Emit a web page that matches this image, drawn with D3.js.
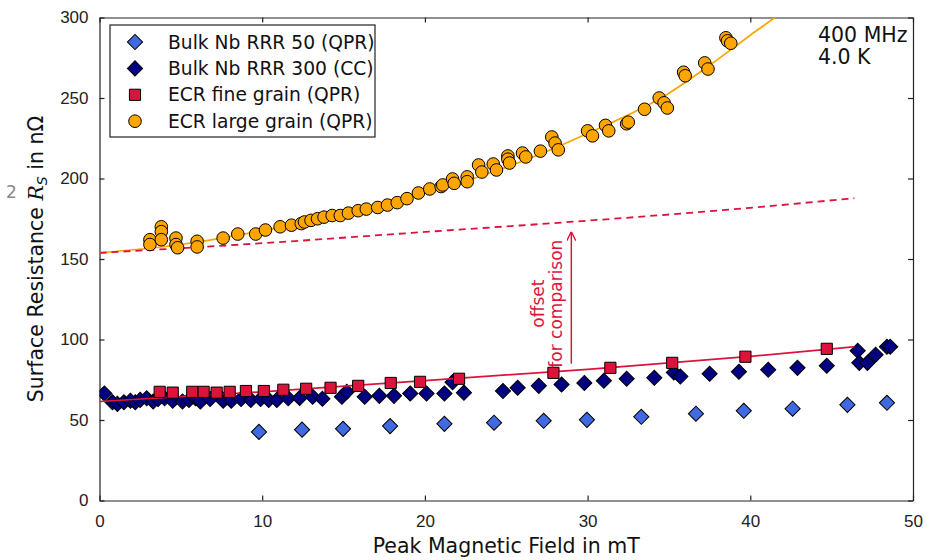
<!DOCTYPE html>
<html>
<head>
<meta charset="utf-8">
<script src="https://cdn.jsdelivr.net/npm/d3@7"></script>
<style>
  body { margin: 0; background: #fff; }
  svg { display: block; font-family: "DejaVu Sans", sans-serif; }
  .axis text { font-size: 17px; fill: #222; }
  .axis path, .axis line { stroke: #222; stroke-width: 1.2; }
</style>
</head>
<body>
<div id="chart"></div>
<script>
const margin = {top: 17.5, right: 14, bottom: 59.5, left: 99.5};
const width = 927;
const height = 560;
const innerWidth = width - margin.left - margin.right;
const innerHeight = height - margin.top - margin.bottom;

// Data: [peak field in mT, Rs in nOhm]
const xTicks = [0, 10, 20, 30, 40, 50];
const yTicks = [0, 50, 100, 150, 200, 250, 300];

const bulkRRR50 = [
  [9.8, 42.6], [12.45, 44], [14.97, 44.5], [17.86, 46.2], [21.2, 47.6], [24.25, 48.3],
  [27.3, 49.5], [29.96, 50.1], [33.3, 52], [36.66, 53.9], [39.6, 55.7], [42.6, 57],
  [45.97, 59.4], [48.4, 60.7]
];

const bulkRRR300 = [
  [0.3, 66.5], [0.8, 61], [1.1, 60], [1.5, 61], [1.9, 62], [2.2, 61], [2.5, 62.5],
  [2.9, 63.5], [3.3, 61.5], [3.6, 63], [4.0, 63.5], [4.5, 62], [5.1, 61.5], [5.5, 62.5],
  [5.9, 63.5], [6.2, 61.5], [6.8, 63], [7.3, 65.5], [7.6, 62], [8.1, 62], [8.7, 63],
  [9.3, 62.5], [9.9, 63], [10.4, 62.5], [10.9, 62.5], [11.6, 63.5], [12.3, 63.7],
  [13.1, 64.4], [13.7, 63.2], [14.9, 64.4], [15.2, 67.5], [16.3, 64.4], [17.2, 65],
  [18.1, 65], [19.1, 66.5], [20.1, 66.5], [21.2, 66.5], [21.7, 73.5], [22.4, 67],
  [24.8, 68], [25.7, 70], [27.0, 71.2], [28.4, 72], [29.8, 73], [31.0, 74.4],
  [32.4, 75.6], [34.1, 76.2], [35.3, 79.5], [35.7, 77], [37.5, 78.7], [39.3, 80],
  [41.1, 81.2], [42.9, 82.4], [44.7, 83.7], [46.6, 93], [46.7, 85.5], [47.2, 85.5],
  [47.7, 90.5], [48.4, 95.5], [48.6, 95.5]
];

const ecrFine = [
  [3.7, 67.5], [4.5, 67], [5.7, 67.5], [6.4, 67.5], [7.2, 67], [8.0, 67.5], [9.0, 68],
  [10.1, 68], [11.3, 68.8], [12.7, 69.4], [14.2, 70], [15.9, 71.2], [17.9, 73],
  [19.7, 73.7], [22.1, 75.6], [27.9, 79.3], [31.4, 82.4], [35.2, 85.5], [39.7, 89.3],
  [44.7, 94.2]
];

const ecrLarge = [
  [3.1, 162], [3.1, 159], [3.8, 170], [3.8, 167], [3.8, 162], [4.7, 163], [4.7, 159],
  [4.8, 157], [6.0, 161], [6.0, 157.5], [7.6, 163], [8.5, 165.5], [9.6, 165.5],
  [10.2, 168], [11.1, 170], [11.8, 171], [12.4, 172], [12.6, 173], [13.0, 174],
  [13.4, 175], [13.8, 176], [14.3, 177], [14.8, 177], [15.3, 178.5], [15.9, 180],
  [16.4, 181], [17.1, 182], [17.7, 183.5], [18.3, 185], [18.9, 187.5], [19.6, 191],
  [20.3, 193.5], [21.0, 195], [21.1, 196], [21.7, 199.7], [21.8, 197], [22.6, 201],
  [22.6, 198], [23.3, 208.4], [23.5, 204], [24.2, 209], [24.4, 205.3], [25.1, 214],
  [25.1, 212], [25.2, 209.6], [26.0, 215.8], [26.2, 213.4], [27.1, 217], [27.8, 225.8],
  [28.0, 222], [28.2, 217.8], [30.0, 229.6], [30.3, 226.5], [31.1, 233], [31.3, 229.6],
  [32.4, 234], [32.5, 235], [33.5, 243], [34.4, 250], [34.7, 247], [34.9, 243.8],
  [35.9, 266], [36.0, 263.8], [37.2, 271.8], [37.4, 268], [38.5, 287.4], [38.6, 285.5],
  [38.8, 284]
];

// Fit curves
const fineFit = [[0, 61.5], [10, 67.5], [20, 74.5], [30, 81.5], [40, 89.5], [46.4, 95.5]];
const fineOffset = 92.3;
const largeFit = [
  [0, 153.8], [5, 159], [10, 167.5], [15, 178], [20, 191], [25, 207], [30, 228],
  [35, 253], [38, 274], [40, 289], [41.5, 300], [43, 312]
];
const arrowX = 29;
const arrowFrom = 85;
const arrowTo = 167;

const legendItems = [
  {label: "Bulk Nb RRR 50 (QPR)", shape: "diamond", color: "#4169e1"},
  {label: "Bulk Nb RRR 300 (CC)", shape: "diamond", color: "#000080"},
  {label: "ECR fine grain (QPR)", shape: "square", color: "#dc143c"},
  {label: "ECR large grain (QPR)", shape: "circle", color: "#ffa500"}
];

// Append containers
const svg = d3.select("#chart")
  .append("svg")
    .attr("width", width)
    .attr("height", height);

svg.append("defs")
  .append("clipPath")
    .attr("id", "plot-clip")
  .append("rect")
    .attr("width", innerWidth)
    .attr("height", innerHeight);

svg.select("defs")
  .append("marker")
    .attr("id", "arrow-head")
    .attr("viewBox", "0 0 10 10")
    .attr("refX", 10)
    .attr("refY", 5)
    .attr("markerWidth", 9)
    .attr("markerHeight", 9)
    .attr("markerUnits", "userSpaceOnUse")
    .attr("orient", "auto")
  .append("path")
    .attr("d", "M0,0 L10,5 L0,10")
    .attr("fill", "none")
    .attr("stroke", "#dc143c")
    .attr("stroke-width", 1.5);

const innerChart = svg
  .append("g")
    .attr("transform", `translate(${margin.left}, ${margin.top})`);

// Declare scales
const xScale = d3.scaleLinear()
  .domain([0, 50])
  .range([0, innerWidth]);

const yScale = d3.scaleLinear()
  .domain([0, 300])
  .range([innerHeight, 0]);

// Axes, ticks pointing inward on all four sides
innerChart.append("g")
    .attr("class", "axis axis-x")
    .attr("transform", `translate(0, ${innerHeight})`)
    .call(d3.axisBottom(xScale).tickValues(xTicks).tickSize(-5).tickSizeOuter(0).tickPadding(14));

innerChart.append("g")
    .attr("class", "axis axis-y")
    .call(d3.axisLeft(yScale).tickValues(yTicks).tickSize(-5).tickSizeOuter(0).tickPadding(11));

innerChart.append("g")
    .attr("class", "axis")
    .call(d3.axisTop(xScale).tickValues(xTicks).tickSize(-5).tickSizeOuter(0).tickFormat(""));

innerChart.append("g")
    .attr("class", "axis")
    .attr("transform", `translate(${innerWidth}, 0)`)
    .call(d3.axisRight(yScale).tickValues(yTicks).tickSize(-5).tickSizeOuter(0).tickFormat(""));

// Marker generators
const diamond = d3.symbol(d3.symbolSquare, 115);
const square = d3.symbol(d3.symbolSquare, 125);

const plot = innerChart.append("g")
    .attr("clip-path", "url(#plot-clip)");

const drawDiamonds = (data, color) => {
  plot.append("g")
    .selectAll("path")
    .data(data)
    .join("path")
      .attr("d", diamond())
      .attr("transform", d => `translate(${xScale(d[0])}, ${yScale(d[1])}) rotate(45)`)
      .attr("fill", color)
      .attr("stroke", "#000")
      .attr("stroke-width", 1);
};

drawDiamonds(bulkRRR50, "#4169e1");
drawDiamonds(bulkRRR300, "#000080");

// Fit curves
const fitLine = d3.line()
  .x(d => xScale(d[0]))
  .y(d => yScale(d[1]))
  .curve(d3.curveMonotoneX);

plot.append("path")
    .attr("d", fitLine(largeFit))
    .attr("fill", "none")
    .attr("stroke", "#ffa500")
    .attr("stroke-width", 1.7);

plot.append("path")
    .attr("d", fitLine(fineFit))
    .attr("fill", "none")
    .attr("stroke", "#dc143c")
    .attr("stroke-width", 1.7);

plot.append("path")
    .attr("d", fitLine(fineFit.map(d => [d[0], d[1] + fineOffset])))
    .attr("fill", "none")
    .attr("stroke", "#dc143c")
    .attr("stroke-width", 1.8)
    .attr("stroke-dasharray", "7,5");

// Squares and circles
plot.append("g")
  .selectAll("path")
  .data(ecrFine)
  .join("path")
    .attr("d", square())
    .attr("transform", d => `translate(${xScale(d[0])}, ${yScale(d[1])})`)
    .attr("fill", "#dc143c")
    .attr("stroke", "#000")
    .attr("stroke-width", 1);

plot.append("g")
  .selectAll("circle")
  .data(ecrLarge)
  .join("circle")
    .attr("cx", d => xScale(d[0]))
    .attr("cy", d => yScale(d[1]))
    .attr("r", 6.3)
    .attr("fill", "#ffa500")
    .attr("stroke", "#000")
    .attr("stroke-width", 1);

// Offset arrow and note
innerChart.append("line")
    .attr("x1", xScale(arrowX))
    .attr("y1", yScale(arrowFrom))
    .attr("x2", xScale(arrowX))
    .attr("y2", yScale(arrowTo))
    .attr("stroke", "#dc143c")
    .attr("stroke-width", 1.5)
    .attr("marker-end", "url(#arrow-head)");

const noteY = yScale((arrowFrom + arrowTo) / 2) + 6;
const note = innerChart.append("text")
    .attr("transform", `translate(${xScale(arrowX) - 9}, ${noteY}) rotate(-90)`)
    .attr("text-anchor", "middle")
    .attr("fill", "#dc143c")
    .style("font-size", "17px");
note.append("tspan")
    .attr("x", 0)
    .attr("y", -18)
    .text("offset");
note.append("tspan")
    .attr("x", 0)
    .attr("y", 0)
    .text("for comparison");

// Conditions label
const cond = innerChart.append("text")
    .attr("x", 718.5)
    .attr("y", 24.5)
    .attr("fill", "#111")
    .style("font-size", "20.5px");
cond.append("tspan")
    .attr("x", 718.5)
    .text("400 MHz");
cond.append("tspan")
    .attr("x", 718.5)
    .attr("dy", 22)
    .text("4.0 K");

// Legend
const legend = svg.append("g")
    .attr("transform", "translate(110, 25)");
legend.append("rect")
    .attr("width", 265)
    .attr("height", 112)
    .attr("fill", "#fff")
    .attr("stroke", "#222")
    .attr("stroke-width", 1.2);

const legendRows = legend.selectAll(".legend-row")
  .data(legendItems)
  .join("g")
    .attr("class", "legend-row")
    .attr("transform", (d, i) => `translate(25, ${17 + i * 26.4})`);

legendRows.filter(d => d.shape === "diamond")
  .append("path")
    .attr("d", diamond())
    .attr("transform", "rotate(45)")
    .attr("fill", d => d.color)
    .attr("stroke", "#000");
legendRows.filter(d => d.shape === "square")
  .append("path")
    .attr("d", square())
    .attr("fill", d => d.color)
    .attr("stroke", "#000");
legendRows.filter(d => d.shape === "circle")
  .append("circle")
    .attr("r", 6.3)
    .attr("fill", d => d.color)
    .attr("stroke", "#000");
legendRows.append("text")
    .attr("x", 33)
    .attr("dy", "0.35em")
    .style("font-size", "18.7px")
    .attr("fill", "#111")
    .text(d => d.label);

// Axis titles
svg.append("text")
    .attr("x", margin.left + innerWidth / 2)
    .attr("y", 553)
    .attr("text-anchor", "middle")
    .attr("fill", "#111")
    .style("font-size", "20.5px")
    .text("Peak Magnetic Field in mT");

const yTitle = svg.append("text")
    .attr("transform", `translate(43, ${margin.top + innerHeight / 2}) rotate(-90)`)
    .attr("text-anchor", "middle")
    .attr("fill", "#111")
    .style("font-size", "20.5px");
yTitle.append("tspan").text("Surface Resistance ");
yTitle.append("tspan").style("font-style", "italic").style("font-family", "DejaVu Serif").text("R");
yTitle.append("tspan").style("font-style", "italic").style("font-size", "14px").attr("dy", 4).text("S");
yTitle.append("tspan").attr("dy", -4).text(" in n\u03A9");

// Stray page mark at the left edge of the scan
svg.append("text")
    .attr("x", 6)
    .attr("y", 198)
    .attr("fill", "#888")
    .style("font-size", "17px")
    .text("2");
</script>
</body>
</html>
